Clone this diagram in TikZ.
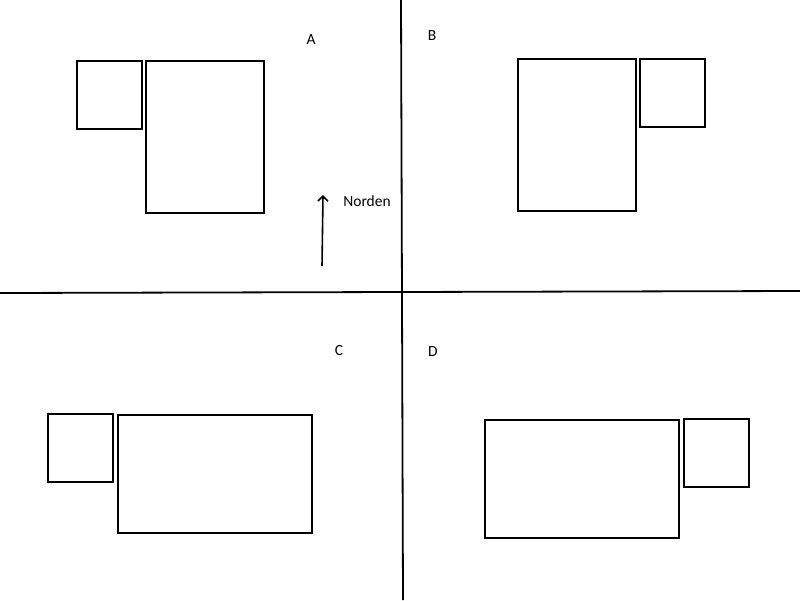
\documentclass[tikz,border=0pt]{standalone}
\usepackage{fontspec}
\setmainfont{Carlito}
\usetikzlibrary{arrows.meta}
\begin{document}
\begin{tikzpicture}[x=1pt,y=-1pt,
			box/.style = {draw, line width=1.6pt},
			axis/.style = {draw, line width=1.8pt},
			every node/.style = {font=\fontsize{15.5}{18}\selectfont, inner sep=0pt}]
			
			\useasboundingbox (0,0) rectangle (800,600);
			
			% Achsen
			\draw[axis] (401,0) -- (403,600);
			\draw[axis] (0,293) -- (800,291);
			
			% A
			\draw[box] (77,61) rectangle (142,129);
			\draw[box] (146,61) rectangle (264,213);
			\node (labelA) at (311,40) {A};
			
			% B
			\draw[box] (518,59) rectangle (636,211);
			\draw[box] (640,59) rectangle (705,127);
			\node (labelB) at (432,36) {B};
			
			% C
			\draw[box] (48,414) rectangle (113,482);
			\draw[box] (118,415) rectangle (312,533);
			\node (labelC) at (339,351) {C};
			
			% D
			\draw[box] (485,420) rectangle (679,538);
			\draw[box] (684,419) rectangle (749,487);
			\node (labelD) at (433,352) {D};
			
			% Nordpfeil
			\coordinate (south) at (322,266);
			\coordinate (north) at (323,195);
			\draw[line width=1.6pt, -{Straight Barb[length=5pt,width=10pt]}] (south) -- (north);
			\node (norden) at (367,201) {Norden};
\end{tikzpicture}
\end{document}
